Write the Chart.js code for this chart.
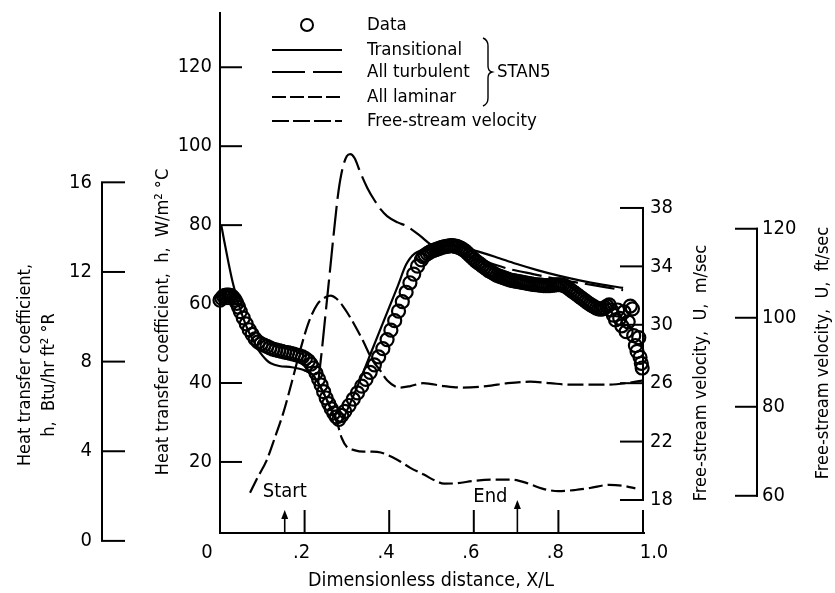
<!DOCTYPE html>
<html>
<head>
<meta charset="utf-8">
<script src="https://cdn.jsdelivr.net/npm/chart.js@4.4.0/dist/chart.umd.min.js"></script>
<style>
  html, body { margin: 0; padding: 0; background: #fff; }
  canvas { display: block; }
</style>
</head>
<body>
<canvas id="chart" width="835" height="593"></canvas>
<script>
// --- data ---
// measured heat transfer coefficient, h (W/m2 C) vs X/L
const dataX = [0, 0.004, 0.008, 0.012, 0.016, 0.02, 0.024, 0.028, 0.032, 0.036, 0.04, 0.044, 0.048,
  0.055, 0.062, 0.069, 0.076, 0.083, 0.09, 0.097, 0.104, 0.111, 0.118, 0.125, 0.132, 0.139, 0.146, 0.153,
  0.16, 0.167, 0.174, 0.181, 0.188, 0.195, 0.202, 0.209, 0.215, 0.221, 0.227, 0.233, 0.239, 0.245, 0.251,
  0.257, 0.263, 0.269, 0.275, 0.281,
  0.288, 0.295, 0.305, 0.315, 0.325, 0.335, 0.345, 0.355, 0.365, 0.375, 0.385, 0.395, 0.404, 0.413, 0.422,
  0.431, 0.44, 0.449, 0.458, 0.467, 0.476,
  0.48, 0.485, 0.49, 0.495, 0.5, 0.505, 0.51, 0.515, 0.52, 0.525, 0.53, 0.535, 0.54, 0.545, 0.55, 0.555,
  0.56, 0.565, 0.57, 0.575, 0.58, 0.585, 0.59, 0.595, 0.6, 0.605, 0.61, 0.615, 0.62, 0.625, 0.63, 0.635,
  0.64, 0.645, 0.65, 0.655, 0.66, 0.665, 0.67, 0.675, 0.68, 0.685, 0.69, 0.695, 0.7, 0.705, 0.71, 0.715,
  0.72, 0.725, 0.73, 0.735, 0.74, 0.745, 0.75, 0.755, 0.76, 0.765, 0.77, 0.775, 0.78, 0.785, 0.79, 0.795,
  0.8, 0.805, 0.81, 0.815, 0.82, 0.825, 0.83, 0.835, 0.84, 0.845, 0.85, 0.855, 0.86, 0.865, 0.87, 0.875,
  0.88, 0.885, 0.89, 0.895, 0.9, 0.905, 0.91, 0.915, 0.92,
  0.925, 0.93, 0.935, 0.94, 0.945, 0.95, 0.955, 0.96, 0.965, 0.97, 0.975, 0.978, 0.982, 0.986, 0.99,
  0.993, 0.996, 0.998];
const dataH = [61, 61.5, 62, 62.2, 62.3, 62.3, 62.2, 62, 61.6, 61, 60.2, 59.2, 58.1,
  56.5, 55, 53.5, 52.3, 51.2, 50.4, 49.9, 49.6, 49.3, 48.9, 48.6, 48.4, 48.2, 48.0, 47.8,
  47.7, 47.5, 47.3, 47.1, 46.9, 46.6, 46.2, 45.6, 44.8, 43.8, 42.5, 41.0, 39.5, 37.8, 36.2,
  34.8, 33.5, 32.4, 31.4, 30.8,
  31.8, 32.8, 34.3, 35.9, 37.5, 39.2, 40.9, 42.7, 44.6, 46.6, 48.7, 51.0, 53.4, 55.8, 58.2,
  60.6, 63.0, 65.4, 67.6, 69.6, 71.2,
  72.0, 72.4, 72.8, 73.1, 73.4, 73.6, 73.8, 74.0, 74.2, 74.4, 74.5, 74.6, 74.7, 74.8, 74.8, 74.7,
  74.6, 74.4, 74.1, 73.8, 73.4, 72.9, 72.4, 71.9, 71.4, 70.9, 70.5, 70.1, 69.7, 69.3, 68.9, 68.5,
  68.2, 67.9, 67.6, 67.3, 67.1, 66.9, 66.7, 66.5, 66.3, 66.1, 66.0, 65.9, 65.8, 65.7, 65.6, 65.5,
  65.4, 65.3, 65.2, 65.1, 65.0, 64.9, 64.9, 64.8, 64.8, 64.7, 64.7, 64.7, 64.7, 64.8, 64.8, 64.9,
  64.9, 64.9, 64.8, 64.6, 64.3, 63.9, 63.5, 63.1, 62.7, 62.3, 61.9, 61.5, 61.1, 60.7, 60.3, 59.9,
  59.6, 59.3, 59.0, 58.8, 58.7, 58.8, 59.1, 59.5, 59.8,
  58.5, 57.2, 56.0, 58.5, 56.4, 54.5, 58.0, 53.0, 55.5, 59.5, 58.8, 52.0, 49.5, 48.0, 51.5,
  46.5, 45.0, 43.8];

// STAN5 predictions
const transX = [0.003, 0.01, 0.02, 0.03, 0.04, 0.05, 0.06, 0.07, 0.08, 0.09, 0.1, 0.11, 0.12, 0.14, 0.17,
  0.2, 0.22, 0.24, 0.26, 0.275, 0.285, 0.3, 0.33, 0.36, 0.39, 0.42, 0.44, 0.46, 0.5, 0.55, 0.6, 0.65, 0.7,
  0.75, 0.8, 0.85, 0.9, 0.953];
const transH = [80, 76, 70.5, 65.5, 61.5, 58, 55, 52.5, 50.5, 48.5, 47, 45.8, 45, 44.3, 44,
  43.2, 42, 38.5, 34, 30.5, 30, 33, 40.5, 48.5, 56.5, 64.5, 70, 72.8, 74, 74.8, 73.6, 72.0, 70.2,
  68.6, 67.2, 66.0, 65.0, 64.1];

const turbX = [0.232, 0.24, 0.25, 0.26, 0.27, 0.28, 0.29, 0.3, 0.308, 0.318, 0.332, 0.348, 0.364, 0.38,
  0.395, 0.42, 0.442, 0.474, 0.497, 0.53, 0.57, 0.62, 0.68, 0.74, 0.8, 0.86, 0.91, 0.953];
const turbH = [40, 47.5, 58, 68.5, 79, 88.5, 94.5, 97.5, 98, 97, 93.3, 89.5, 86.5, 84,
  82.3, 80.7, 79.7, 77.2, 75.2, 73.8, 72.5, 71, 69, 67.6, 66.3, 65.2, 64.3, 63.5];

const lamX = [0.2, 0.22, 0.24, 0.26, 0.278, 0.288, 0.3, 0.317, 0.34, 0.36, 0.38, 0.42, 0.45, 0.482, 0.51,
  0.53, 0.56, 0.6, 0.64, 0.69, 0.73, 0.76, 0.8, 0.84, 0.875, 0.92, 0.95, 0.982];
const lamH = [43.2, 42, 38.5, 34, 29.5, 26, 23.8, 23, 22.6, 22.6, 22.4, 20.5, 18.5, 16.8, 15.2,
  14.5, 14.6, 15.2, 15.5, 15.5, 14.5, 13.3, 12.6, 12.9, 13.4, 14.2, 14.0, 13.3];

// free-stream velocity, U (m/sec)
const velX = [0.071, 0.09, 0.11, 0.13, 0.15, 0.17, 0.19, 0.21, 0.23, 0.25, 0.262, 0.275, 0.29, 0.31, 0.338,
  0.36, 0.378, 0.395, 0.425, 0.45, 0.48, 0.53, 0.574, 0.63, 0.68, 0.733, 0.78, 0.827, 0.87, 0.915, 0.96, 1.0];
const velU = [18.5, 19.6, 20.7, 22.3, 24.0, 26.1, 28.3, 30.2, 31.4, 31.9, 32.0, 31.8, 31.3, 30.4, 28.9,
  27.6, 26.9, 26.2, 25.7, 25.8, 26.0, 25.8, 25.7, 25.8, 26.0, 26.1, 26.0, 25.9, 25.9, 25.9, 26.0, 26.2];

// tick values / labels
const xTicks = [0.2, 0.4, 0.6, 0.8, 1.0];
const xTickLabels = ['.2', '.4', '.6', '.8', '1.0'];
const hTicks = [20, 40, 60, 80, 100, 120];
const btuTicks = [0, 4, 8, 12, 16];
const uTicks = [18, 22, 26, 30, 34, 38];
const ftTicks = [60, 80, 100, 120];
const startX = 0.153;
const endX = 0.703;

const BTU_TO_W = 5.678;   // Btu/hr ft2 R -> W/m2 C
const MS_TO_FTS = 3.2808; // m/sec -> ft/sec

const FONT = '"Liberation Sans Narrow", "DejaVu Sans Condensed", "Arial Narrow", sans-serif';

const pts = (xs, ys) => xs.map((v, i) => ({ x: v, y: ys[i] }));

// draws the axes, labels, legend and notes
const figurePlugin = {
  id: 'figure',
  afterDraw(chart) {
    const { ctx, chartArea: a } = chart;
    const x = chart.scales.x, y = chart.scales.y, u = chart.scales.u;

    const line = (x1, y1, x2, y2) => {
      ctx.beginPath(); ctx.moveTo(x1, y1); ctx.lineTo(x2, y2); ctx.stroke();
    };
    const text = (s, px, py, size, align) => {
      ctx.font = size + 'px ' + FONT;
      ctx.textAlign = align || 'center';
      ctx.textBaseline = 'middle';
      ctx.fillText(s, px, py);
    };
    const vtext = (s, px, py, size) => {
      ctx.save();
      ctx.translate(px, py);
      ctx.rotate(-Math.PI / 2);
      text(s, 0, 0, size, 'center');
      ctx.restore();
    };

    ctx.save();
    ctx.strokeStyle = '#000';
    ctx.fillStyle = '#000';
    ctx.lineWidth = 2;

    // main frame
    line(a.left, a.top, a.left, a.bottom + 1);
    line(a.left - 1, a.bottom, a.right + 2, a.bottom);

    // x ticks (inward)
    xTicks.forEach(v => {
      const px = x.getPixelForValue(v);
      line(px, a.bottom, px, a.bottom - 23);
    });
    text('0', a.left - 13, 553, 20);
    xTicks.forEach((v, i) => {
      const px = x.getPixelForValue(v);
      text(xTickLabels[i], v === 1 ? px + 11 : px - 3, 553, 20);
    });
    text('Dimensionless distance, X/L', 431, 581, 19.5);

    // h axis, W/m2 C
    hTicks.forEach(v => {
      const py = y.getPixelForValue(v);
      line(a.left, py, a.left + 22, py);
      text(String(v), a.left - 8, py, 20, 'right');
    });
    vtext('Heat transfer coefficient,  h,  W/m\u00b2 \u00b0C', 163, 322, 18);

    // h axis, Btu/hr ft2 R
    const bx = 102;
    const bTop = y.getPixelForValue(16 * BTU_TO_W);
    const bBot = y.getPixelForValue(0);
    line(bx, bTop, bx, bBot);
    btuTicks.forEach(v => {
      const py = y.getPixelForValue(v * BTU_TO_W);
      line(bx - 1, py, bx + 23, py);
      text(String(v), bx - 10, py, 20, 'right');
    });
    vtext('Heat transfer coefficient,', 25, 365, 18);
    vtext('h,  Btu/hr ft\u00b2 \u00b0R', 49, 375, 18);

    // U axis, m/sec
    const rx = a.right;
    line(rx, u.getPixelForValue(38) - 1, rx, u.getPixelForValue(18) + 1);
    uTicks.forEach(v => {
      const py = u.getPixelForValue(v);
      line(rx - 23, py, rx + 1, py);
      text(String(v), rx + 7, py, 20, 'left');
    });
    vtext('Free-stream velocity,  U,  m/sec', 701, 373, 18);

    // U axis, ft/sec
    const fx = 757;
    const fTop = u.getPixelForValue(120 / MS_TO_FTS);
    const fBot = u.getPixelForValue(60 / MS_TO_FTS);
    line(fx, fTop - 1, fx, fBot + 1);
    ftTicks.forEach(v => {
      const py = u.getPixelForValue(v / MS_TO_FTS);
      line(fx - 22, py, fx + 1, py);
      text(String(v), fx + 5, py, 20, 'left');
    });
    vtext('Free-stream velocity,  U,  ft/sec', 823, 353, 18);

    // Start / End arrows
    const arrow = (v, tipY, label, labelY) => {
      const px = x.getPixelForValue(v);
      ctx.lineWidth = 1.6;
      line(px, a.bottom, px, tipY + 5);
      ctx.beginPath();
      ctx.moveTo(px, tipY); ctx.lineTo(px - 3.5, tipY + 9); ctx.lineTo(px + 3.5, tipY + 9);
      ctx.closePath(); ctx.fill();
      text(label, label === 'End' ? px - 27 : px, labelY, 20);
    };
    arrow(startX, 510, 'Start', 492);
    arrow(endX, 500, 'End', 497);

    // legend
    const lx1 = 272, lx2 = 342, tx = 367;
    ctx.lineWidth = 2;
    ctx.beginPath(); ctx.arc(307, 25, 6, 0, Math.PI * 2); ctx.stroke();
    text('Data', tx, 25, 18.5, 'left');
    const legendRows = [
      ['Transitional', 50, []],
      ['All turbulent', 72, [33, 8]],
      ['All laminar', 97, [14, 4]],
      ['Free-stream velocity', 121, [17, 4]]
    ];
    legendRows.forEach(([label, ly, dash]) => {
      ctx.setLineDash(dash);
      line(lx1, ly, lx2, ly);
      ctx.setLineDash([]);
      text(label, tx, ly, 18.5, 'left');
    });
    // brace
    ctx.lineWidth = 1.4;
    ctx.beginPath();
    ctx.moveTo(483, 38);
    ctx.quadraticCurveTo(488, 40, 488, 46);
    ctx.lineTo(488, 66);
    ctx.quadraticCurveTo(488, 71, 492, 72);
    ctx.quadraticCurveTo(488, 73, 488, 78);
    ctx.lineTo(488, 98);
    ctx.quadraticCurveTo(488, 104, 483, 106);
    ctx.stroke();
    text('STAN5', 497, 72, 18.5, 'left');

    ctx.restore();
  }
};

const lineSet = (xs, ys, dash, axis) => ({
  data: pts(xs, ys),
  yAxisID: axis || 'y',
  showLine: true,
  borderColor: '#000',
  borderWidth: 2.2,
  borderDash: dash,
  pointRadius: 0,
  cubicInterpolationMode: 'monotone',
  fill: false
});

new Chart(document.getElementById('chart'), {
  type: 'scatter',
  data: {
    datasets: [
      {
        data: pts(dataX, dataH),
        yAxisID: 'y',
        pointRadius: 6.5,
        pointBorderWidth: 2.2,
        pointBorderColor: '#000',
        pointBackgroundColor: 'rgba(0,0,0,0)',
        clip: false
      },
      lineSet(transX, transH, []),
      lineSet(turbX, turbH, [30, 7]),
      lineSet(lamX, lamH, [14, 5]),
      lineSet(velX, velU, [16, 5], 'u')
    ]
  },
  options: {
    responsive: false,
    animation: false,
    devicePixelRatio: 1,
    events: [],
    layout: { padding: { left: 220, right: 192, top: 12, bottom: 60 } },
    plugins: { legend: { display: false }, tooltip: { enabled: false } },
    scales: {
      x: { type: 'linear', min: 0, max: 1, display: false },
      y: { type: 'linear', min: 2, max: 134, display: false },
      u: { type: 'linear', min: 15.74, max: 51.42, display: false }
    }
  },
  plugins: [figurePlugin]
});
</script>
</body>
</html>
